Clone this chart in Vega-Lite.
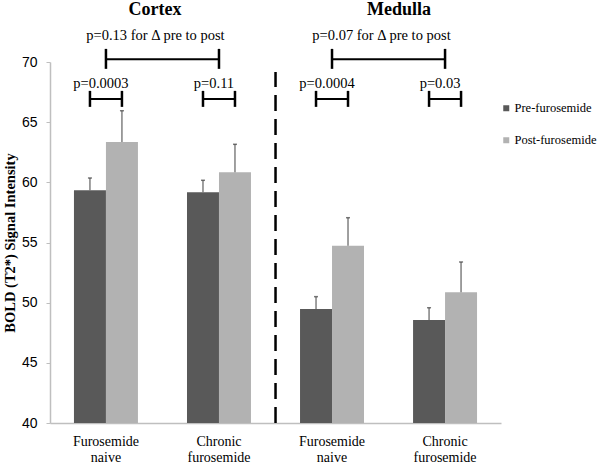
{
  "$schema": "https://vega.github.io/schema/vega-lite/v6.json",
  "autosize": {"type": "none"},
  "padding": {"left": 50, "top": 62, "right": 99, "bottom": 42},
  "width": 451,
  "height": 361,
  "background": "white",
  "config": {"view": {"stroke": null}},
  "datasets": {
    "bars": [
      {"region": "Cortex", "group": "Cortex naive", "phase": "Pre-furosemide", "mean": 59.35, "upper": 60.36},
      {"region": "Cortex", "group": "Cortex naive", "phase": "Post-furosemide", "mean": 63.35, "upper": 65.95},
      {"region": "Cortex", "group": "Cortex chronic", "phase": "Pre-furosemide", "mean": 59.17, "upper": 60.17},
      {"region": "Cortex", "group": "Cortex chronic", "phase": "Post-furosemide", "mean": 60.83, "upper": 63.16},
      {"region": "Medulla", "group": "Medulla naive", "phase": "Pre-furosemide", "mean": 49.47, "upper": 50.5},
      {"region": "Medulla", "group": "Medulla naive", "phase": "Post-furosemide", "mean": 54.73, "upper": 57.06},
      {"region": "Medulla", "group": "Medulla chronic", "phase": "Pre-furosemide", "mean": 48.56, "upper": 49.58},
      {"region": "Medulla", "group": "Medulla chronic", "phase": "Post-furosemide", "mean": 50.86, "upper": 53.38}
    ],
    "small": [
      {"group": "Cortex naive", "label": "p=0.0003", "y": 66.93, "top": 67.6, "bottom": 66.27, "ytext": 67.8},
      {"group": "Cortex chronic", "label": "p=0.11", "y": 66.93, "top": 67.6, "bottom": 66.27, "ytext": 67.8},
      {"group": "Medulla naive", "label": "p=0.0004", "y": 66.93, "top": 67.6, "bottom": 66.27, "ytext": 67.8},
      {"group": "Medulla chronic", "label": "p=0.03", "y": 66.93, "top": 67.6, "bottom": 66.27, "ytext": 67.8}
    ],
    "big": [
      {"from": "Cortex naive", "to": "Cortex chronic", "label": "p=0.13 for Δ pre to post", "y": 70.23, "top": 71.09, "bottom": 69.43, "ytext": 71.83},
      {"from": "Medulla naive", "to": "Medulla chronic", "label": "p=0.07 for Δ pre to post", "y": 70.23, "top": 71.09, "bottom": 69.43, "ytext": 71.83}
    ],
    "titles": [
      {"group": "Cortex naive", "title": "Cortex", "y": 73.88},
      {"group": "Medulla naive", "title": "Medulla", "y": 73.88}
    ],
    "divider": [
      {"group": "Medulla naive", "y": 40, "y2": 69.17}
    ]
  },
  "layer": [
    {
      "data": {"name": "bars"},
      "mark": {"type": "bar"},
      "encoding": {
        "x": {
          "field": "group", "type": "nominal",
          "scale": {"domain": ["Cortex naive", "Cortex chronic", "Medulla naive", "Medulla chronic"], "paddingInner": 0.434, "paddingOuter": 0.212},
          "axis": {
            "title": null, "ticks": false, "labelAngle": 0,
            "domainColor": "#bfbfbf", "domainWidth": 1.5,
            "labelFont": "Liberation Serif", "labelFontSize": 14, "labelColor": "black",
            "labelPadding": 11, "labelLineHeight": 16, "labelBaseline": "top",
            "labelExpr": "test(/naive/, datum.value) ? ['Furosemide', 'naive'] : ['Chronic', 'furosemide']"
          }
        },
        "xOffset": {"field": "phase", "type": "nominal", "scale": {"domain": ["Pre-furosemide", "Post-furosemide"], "paddingInner": 0, "paddingOuter": 0}},
        "y": {
          "field": "mean", "type": "quantitative",
          "scale": {"domain": [40, 70], "nice": false, "zero": false},
          "axis": {
            "values": [40, 45, 50, 55, 60, 65, 70], "grid": false,
            "domainColor": "#bfbfbf", "domainWidth": 1.5, "tickColor": "#bfbfbf", "tickSize": 4,
            "labelFont": "Liberation Sans", "labelFontSize": 14, "labelColor": "black", "labelPadding": 9,
            "title": "BOLD (T2*) Signal Intensity", "titleFont": "Liberation Serif", "titleFontSize": 14.5,
            "titleFontWeight": "bold", "titleColor": "black", "titlePadding": 4
          }
        },
        "y2": {"datum": 40},
        "color": {
          "field": "phase", "type": "nominal",
          "scale": {"domain": ["Pre-furosemide", "Post-furosemide"], "range": ["#595959", "#b2b2b2"]},
          "legend": {
            "title": null, "orient": "none", "legendX": 450, "legendY": 40, "padding": 0,
            "symbolType": "square", "symbolSize": 36, "symbolStrokeWidth": 0,
            "labelFont": "Liberation Serif", "labelFontSize": 12.5, "labelColor": "black",
            "labelOffset": 2, "rowPadding": 19
          }
        }
      }
    },
    {
      "data": {"name": "bars"},
      "mark": {"type": "rule", "color": "#606060", "strokeWidth": 1.2},
      "encoding": {
        "x": {"field": "group", "type": "nominal"},
        "xOffset": {"field": "phase", "type": "nominal"},
        "y": {"field": "mean", "type": "quantitative"},
        "y2": {"field": "upper"}
      }
    },
    {
      "data": {"name": "bars"},
      "mark": {"type": "tick", "color": "#404040", "size": 4, "thickness": 1.5, "orient": "horizontal"},
      "encoding": {
        "x": {"field": "group", "type": "nominal"},
        "xOffset": {"field": "phase", "type": "nominal"},
        "y": {"field": "upper", "type": "quantitative"}
      }
    },
    {
      "data": {"name": "divider"},
      "mark": {"type": "rule", "color": "black", "strokeWidth": 2.5, "strokeDash": [16, 8], "xOffset": -24.5},
      "encoding": {
        "x": {"field": "group", "type": "nominal", "bandPosition": 0},
        "y": {"field": "y", "type": "quantitative"},
        "y2": {"field": "y2"}
      }
    },
    {
      "data": {"name": "small"},
      "mark": {"type": "rule", "color": "black", "strokeWidth": 2},
      "encoding": {
        "x": {"field": "group", "type": "nominal", "bandPosition": 0.25},
        "x2": {"field": "group", "bandPosition": 0.75},
        "y": {"field": "y", "type": "quantitative"}
      }
    },
    {
      "data": {"name": "small"},
      "mark": {"type": "rule", "color": "black", "strokeWidth": 2.5},
      "encoding": {
        "x": {"field": "group", "type": "nominal", "bandPosition": 0.25},
        "y": {"field": "top", "type": "quantitative"},
        "y2": {"field": "bottom"}
      }
    },
    {
      "data": {"name": "small"},
      "mark": {"type": "rule", "color": "black", "strokeWidth": 2.5},
      "encoding": {
        "x": {"field": "group", "type": "nominal", "bandPosition": 0.75},
        "y": {"field": "top", "type": "quantitative"},
        "y2": {"field": "bottom"}
      }
    },
    {
      "data": {"name": "small"},
      "mark": {"type": "text", "font": "Liberation Serif", "fontSize": 14.5, "color": "black", "baseline": "alphabetic", "align": "center", "dx": -5},
      "encoding": {
        "x": {"field": "group", "type": "nominal", "bandPosition": 0.5},
        "y": {"field": "ytext", "type": "quantitative"},
        "text": {"field": "label"}
      }
    },
    {
      "data": {"name": "big"},
      "mark": {"type": "rule", "color": "black", "strokeWidth": 2},
      "encoding": {
        "x": {"field": "from", "type": "nominal", "bandPosition": 0.5},
        "x2": {"field": "to", "bandPosition": 0.5},
        "y": {"field": "y", "type": "quantitative"}
      }
    },
    {
      "data": {"name": "big"},
      "mark": {"type": "rule", "color": "black", "strokeWidth": 2.5},
      "encoding": {
        "x": {"field": "from", "type": "nominal", "bandPosition": 0.5},
        "y": {"field": "top", "type": "quantitative"},
        "y2": {"field": "bottom"}
      }
    },
    {
      "data": {"name": "big"},
      "mark": {"type": "rule", "color": "black", "strokeWidth": 2.5},
      "encoding": {
        "x": {"field": "to", "type": "nominal", "bandPosition": 0.5},
        "y": {"field": "top", "type": "quantitative"},
        "y2": {"field": "bottom"}
      }
    },
    {
      "data": {"name": "big"},
      "mark": {"type": "text", "font": "Liberation Serif", "fontSize": 14.5, "color": "black", "baseline": "alphabetic", "align": "center", "dx": 49.5},
      "encoding": {
        "x": {"field": "from", "type": "nominal", "bandPosition": 0.5},
        "y": {"field": "ytext", "type": "quantitative"},
        "text": {"field": "label"}
      }
    },
    {
      "data": {"name": "titles"},
      "transform": [{"filter": "datum.title === 'Cortex'"}],
      "mark": {"type": "text", "font": "Liberation Serif", "fontSize": 18, "fontWeight": "bold", "color": "black", "baseline": "alphabetic", "align": "center", "dx": 49},
      "encoding": {
        "x": {"field": "group", "type": "nominal", "bandPosition": 0.5},
        "y": {"field": "y", "type": "quantitative"},
        "text": {"field": "title"}
      }
    },
    {
      "data": {"name": "titles"},
      "transform": [{"filter": "datum.title === 'Medulla'"}],
      "mark": {"type": "text", "font": "Liberation Serif", "fontSize": 18, "fontWeight": "bold", "color": "black", "baseline": "alphabetic", "align": "center", "dx": 67},
      "encoding": {
        "x": {"field": "group", "type": "nominal", "bandPosition": 0.5},
        "y": {"field": "y", "type": "quantitative"},
        "text": {"field": "title"}
      }
    }
  ]
}
